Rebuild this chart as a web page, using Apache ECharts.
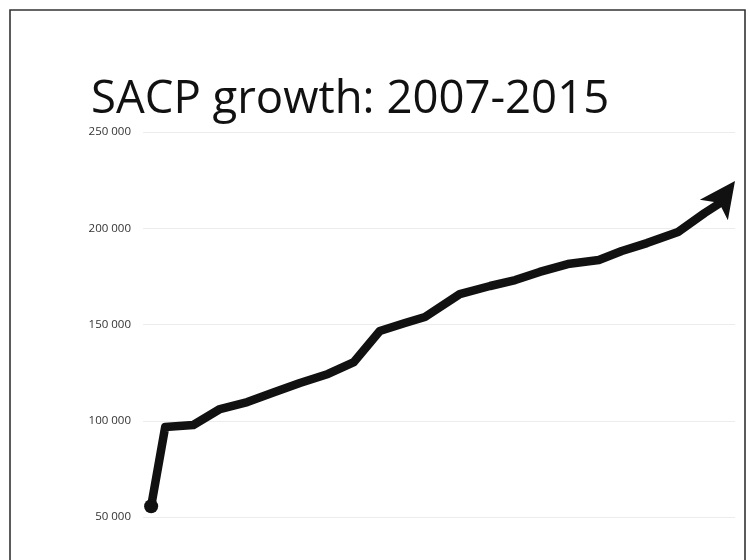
<!DOCTYPE html>
<html>
<head>
<meta charset="utf-8">
<script src="https://cdn.jsdelivr.net/npm/echarts@6/dist/echarts.min.js"></script>
<style>
html,body{margin:0;padding:0;background:#fff;}
#chart{width:750px;height:560px;}
</style>
</head>
<body>
<div id="chart"></div>
<script>
// Data (x in years, y = SACP count)
const titleText = 'SACP growth: 2007-2015';
const years = [2007.11, 2007.30, 2007.68, 2008.04, 2008.41, 2008.78, 2009.12, 2009.50, 2009.85, 2010.20, 2010.54, 2010.81, 2011.28, 2011.69, 2012.03, 2012.36, 2012.74, 2013.16, 2013.47, 2013.81, 2014.23, 2014.59, 2014.80];
const sacp = [55600, 96800, 97800, 106100, 109700, 114900, 119600, 124300, 130500, 146600, 150800, 153900, 165800, 170000, 173100, 177300, 181400, 183500, 188200, 192300, 198100, 207900, 213100];
const arrowTip = [2015.0, 224600];
const yTicks = [50000, 100000, 150000, 200000, 250000];

const chart = echarts.init(document.getElementById('chart'), null, {renderer: 'canvas'});

const lineData = years.map((x, i) => {
  const item = {value: [x, sacp[i]]};
  if (i === 0) {
    item.symbol = 'circle';
    item.symbolSize = 14;
  }
  return item;
});

const fmt = v => String(v).replace(/\B(?=(\d{3})+(?!\d))/g, ' ');

chart.setOption({
  animation: false,
  backgroundColor: '#fff',
  title: {
    text: titleText,
    left: 86,
    top: 72,
    textStyle: {
      fontFamily: 'Open Sans',
      fontSize: 45.5,
      fontWeight: 'normal',
      color: '#111'
    }
  },
  graphic: [{
    type: 'rect',
    shape: {x: 10, y: 10, width: 735, height: 580},
    style: {fill: 'none', stroke: '#333', lineWidth: 1.6},
    silent: true,
    z: 100
  }],
  grid: {left: 143, right: 15, top: 132, bottom: 43, containLabel: false},
  xAxis: {
    type: 'value',
    min: 2007,
    max: 2015,
    show: false
  },
  yAxis: {
    type: 'value',
    min: yTicks[0],
    max: yTicks[yTicks.length - 1],
    interval: 50000,
    axisLine: {show: false},
    axisTick: {show: false},
    axisLabel: {
      formatter: fmt,
      fontFamily: 'Open Sans',
      fontSize: 11.5,
      color: '#333',
      margin: 12
    },
    splitLine: {lineStyle: {color: '#ececec', width: 1}}
  },
  series: [{
    type: 'line',
    data: lineData,
    symbol: 'none',
    showSymbol: true,
    clip: false,
    lineStyle: {color: '#111', width: 8.5, join: 'round', cap: 'butt'},
    itemStyle: {color: '#111', opacity: 1},
    emphasis: {disabled: true},
    silent: true
  }, {
    type: 'scatter',
    data: [arrowTip],
    symbol: 'arrow',
    symbolSize: [26, 36],
    symbolRotate: -36,
    clip: false,
    itemStyle: {color: '#111', opacity: 1},
    emphasis: {disabled: true},
    silent: true,
    z: 3
  }]
});
</script>
</body>
</html>
